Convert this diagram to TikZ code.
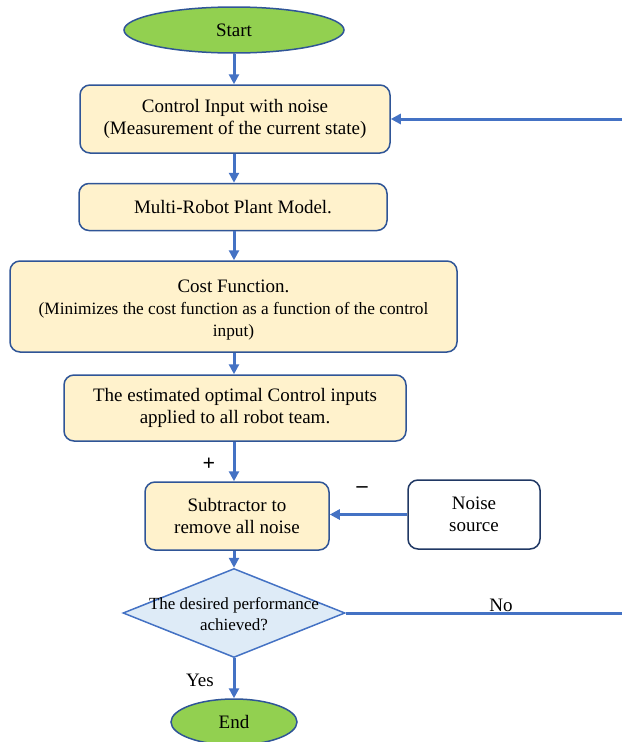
\documentclass[tikz,border=0pt]{standalone}
\usepackage{fontspec}
\setmainfont{Liberation Serif}
\usetikzlibrary{arrows.meta,shapes.geometric}
\definecolor{boxfill}{HTML}{FFF2CC}
\definecolor{boxline}{HTML}{2F5597}
\definecolor{arrowc}{HTML}{4472C4}
\definecolor{greenfill}{HTML}{92D050}
\definecolor{diafill}{HTML}{DEEBF7}
\definecolor{noiseline}{HTML}{203864}
\tikzset{
  txt/.style={font=\fontsize{19}{22}\selectfont, align=center, inner sep=0pt},
  procbox/.style={txt, draw=boxline, fill=boxfill, line width=1.5pt, rounded corners=10pt},
  termin/.style={txt, ellipse, draw=boxline, fill=greenfill, line width=1.5pt},
  flow/.style={draw=arrowc, line width=3pt, -{Triangle[length=10pt,width=10pt]}},
  flowline/.style={draw=arrowc, line width=3pt},
}
\begin{document}
\begin{tikzpicture}[x=1pt,y=-1pt]
\useasboundingbox (0,0) rectangle (622,742);
\node[termin, minimum width=220pt, minimum height=46pt] (start) at (234,30) {Start};
\node[procbox, minimum width=310pt, minimum height=68pt] (ctrl) at (235,119) {Control Input with noise\\(Measurement of the current state)};
\node[procbox, minimum width=308pt, minimum height=47pt] (plant) at (233,207) {Multi-Robot Plant Model.};
\node[procbox, minimum width=447pt, minimum height=91pt] (cost) at (233.5,306.5) {};
\node[txt] (costtext) at (233.5,310) {Cost Function.\\{\fontsize{17.3}{21}\selectfont (Minimizes the cost function as a function of the control}\\{\fontsize{17.3}{21}\selectfont input)}};
\node[procbox, minimum width=342pt, minimum height=66pt] (est) at (235,408) {The estimated optimal Control inputs\\applied to all robot team.};
\node[procbox, minimum width=184pt, minimum height=68pt] (sub) at (237,516) {Subtractor to\\remove all noise};
\node[procbox, fill=white, draw=noiseline, minimum width=132pt, minimum height=69pt] (noise) at (474,514.5) {Noise\\source};
\node[diamond, draw=arrowc, fill=diafill, line width=1.5pt, minimum width=222pt, minimum height=89pt, inner sep=0pt] (dec) at (234,613) {};
\node[txt, font=\fontsize{17}{21}\selectfont] (dectext) at (234,614) {The desired performance\\achieved?};
\node[termin, minimum width=126pt, minimum height=46pt] (end) at (234,722) {End};
\coordinate (noR) at (622,613);
\coordinate (fbR) at (622,119);
\node[txt, font=\fontsize{22}{22}\bfseries] (plus) at (209,464) {+};
\node[txt, font=\fontsize{22}{22}\bfseries] (minus) at (362,490) {–};
\node[txt] (yes) at (200,680) {Yes};
\node[txt] (no) at (501,605) {No};
\draw[flow] (dec.north |- start.south) -- (dec.north |- ctrl.north);
\draw[flow] (dec.north |- ctrl.south) -- (dec.north |- plant.north);
\draw[flow] (dec.north |- plant.south) -- (dec.north |- cost.north);
\draw[flow] (dec.north |- cost.south) -- (dec.north |- est.north);
\draw[flow] (dec.north |- est.south) -- (dec.north |- sub.north);
\draw[flow] (dec.north |- sub.south) -- (dec.north);
\draw[flow] (dec.south) -- (end.north);
\draw[flow] (noise.west) -- (sub.east |- noise.west);
\draw[flowline] (dec.east) -- (noR);
\draw[flow] (fbR) -- (ctrl.east);
\end{tikzpicture}
\end{document}
